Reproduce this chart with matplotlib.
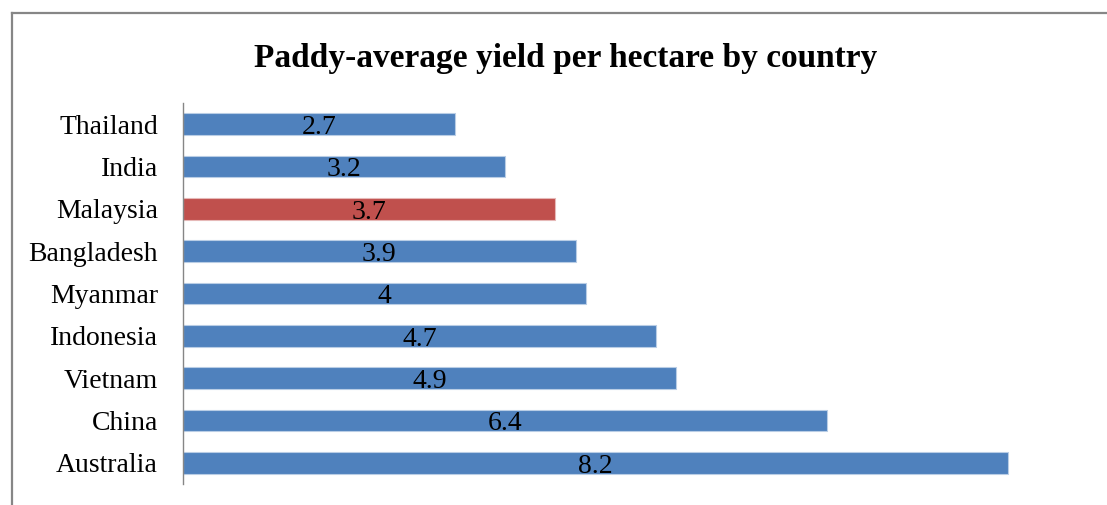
import matplotlib.pyplot as plt
from matplotlib.lines import Line2D

countries = ['Thailand', 'India', 'Malaysia', 'Bangladesh', 'Myanmar',
             'Indonesia', 'Vietnam', 'China', 'Australia']
yields = [2.7, 3.2, 3.7, 3.9, 4, 4.7, 4.9, 6.4, 8.2]
highlight = 'Malaysia'

blue = '#4F81BD'
red = '#C0504D'

plt.rcParams['font.family'] = ['Liberation Serif', 'DejaVu Serif']

fig = plt.figure(figsize=(11.07, 5.05), dpi=100)
ax = fig.add_axes([0.1653, 0.0416, 0.8184, 0.7545])

colors = [red if c == highlight else blue for c in countries]
edges = ['#E6B9B8' if c == highlight else '#B9CDE5' for c in countries]
pos = list(range(len(countries)))
bars = ax.barh(pos, yields, height=0.51, color=colors, edgecolor=edges, linewidth=0.8)

for b, v in zip(bars, yields):
    ax.text(b.get_width() / 2, b.get_y() + b.get_height() / 2 + 0.08, f'{v:g}',
            ha='center', va='center', fontsize=20, color='black')

ax.set_yticks(pos)
ax.set_yticklabels(countries, fontsize=20)
ax.invert_yaxis()
ax.set_ylim(len(countries) - 0.5, -0.5)
ax.set_xlim(0, 9)
ax.set_xticks([])
ax.tick_params(axis='y', length=0, pad=18)
for s in ['top', 'right', 'bottom']:
    ax.spines[s].set_visible(False)
ax.spines['left'].set_color('#868686')
ax.spines['left'].set_linewidth(1)

fig.text(0.511, 0.885, 'Paddy-average yield per hectare by country',
         ha='center', va='center', fontsize=24, fontweight='bold')

# chart frame, only left and top edges show
fig.add_artist(Line2D([0.0104, 0.0104], [0, 0.974], color='#868686', lw=1.6))
fig.add_artist(Line2D([0.0104, 1.0], [0.974, 0.974], color='#868686', lw=1.6))

fig.savefig('out.png', dpi=100)
